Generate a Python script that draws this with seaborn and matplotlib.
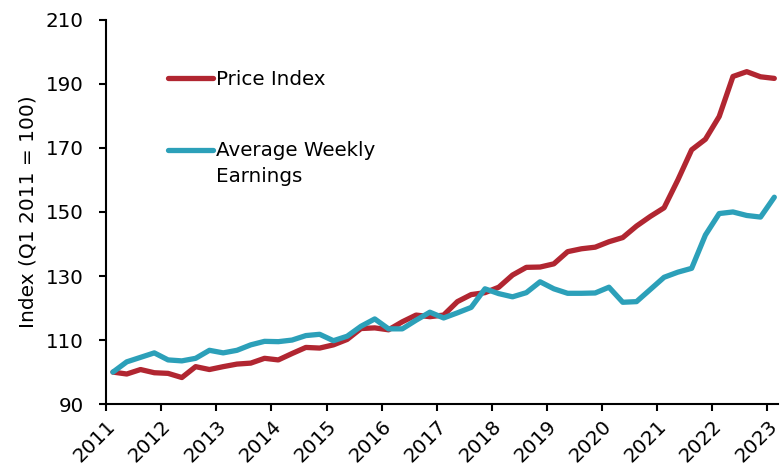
import numpy as np
import pandas as pd
import seaborn as sns
from matplotlib import pyplot as plt

# quarterly index values, Q1 2011 .. Q1 2023
price_index = [100.0, 99.4, 100.8, 99.8, 99.6, 98.3, 101.7, 100.8, 101.7, 102.5,
               102.8, 104.3, 103.8, 105.8, 107.7, 107.5, 108.5, 110.2, 113.6, 113.8,
               113.2, 115.7, 117.8, 117.3, 117.8, 122.0, 124.2, 124.8, 126.5, 130.3,
               132.7, 132.8, 133.8, 137.6, 138.5, 139.0, 140.7, 142.0, 145.6, 148.6,
               151.3, 160.0, 169.4, 172.7, 179.8, 192.3, 193.8, 192.2, 191.7]
weekly_earnings = [100.0, 103.2, 104.6, 106.0, 103.8, 103.5, 104.3, 106.8, 106.0, 106.8,
                   108.5, 109.6, 109.5, 110.0, 111.4, 111.8, 109.8, 111.2, 114.3, 116.6,
                   113.5, 113.5, 116.2, 118.7, 116.9, 118.5, 120.2, 126.0, 124.5, 123.5,
                   124.8, 128.2, 126.0, 124.6, 124.6, 124.7, 126.5, 121.8, 122.0, 125.8,
                   129.6, 131.2, 132.4, 142.8, 149.5, 150.0, 148.9, 148.4, 154.6]
series_names = ['Price Index', 'Average Weekly\nEarnings']
series_colors = ['#B12631', '#2CA0B9']
year_ticks = list(range(2011, 2024))

# mid-quarter positions in decimal years
quarters = np.arange(len(price_index))
t = 2011 + quarters * 0.25 + 0.125

df = pd.DataFrame({
    't': np.concatenate([t, t]),
    'value': price_index + weekly_earnings,
    'series': [series_names[0]] * len(t) + [series_names[1]] * len(t),
})

sns.set_style('white')
plt.rcParams['font.family'] = ['DejaVu Sans']
plt.rcParams['text.color'] = 'black'

fig = plt.figure(figsize=(7.8, 4.71), dpi=100)
ax = fig.add_axes([0.136, 0.142, 0.862, 0.816])

sns.lineplot(data=df, x='t', y='value', hue='series', palette=series_colors,
             linewidth=3.8, ax=ax, legend=True)
for line in ax.get_lines():
    line.set_solid_capstyle('round')
    line.set_solid_joinstyle('round')

ax.set_xlim(2011, 2023.2)
ax.set_ylim(90, 210)
ax.set_yticks(range(90, 211, 20))
ax.set_xticks(year_ticks)
ax.set_xticklabels([str(y) for y in year_ticks], rotation=45, ha='right',
                   rotation_mode='anchor')
ax.tick_params(axis='both', labelsize=14.3, direction='out', length=5, width=1.5,
               colors='black', left=True, bottom=True)
ax.tick_params(axis='y', pad=11)
ax.tick_params(axis='x', pad=4)
ax.set_xlabel('')
ax.set_ylabel('Index (Q1 2011 = 100)', fontsize=14.5, labelpad=6, color='black')

sns.despine(ax=ax)
for s in ['left', 'bottom']:
    ax.spines[s].set_linewidth(1.5)
    ax.spines[s].set_color('black')

handles, labels = ax.get_legend_handles_labels()
fs = 14.3
lsp = 1.45
leg = ax.legend(handles, labels, loc='upper left', bbox_to_anchor=(0.065, 0.915),
                frameon=False, fontsize=fs, handlelength=2.3, handletextpad=0.15,
                labelspacing=2.6)
for txt in leg.get_texts():
    txt.set_linespacing(lsp)
# put the second handle level with the first line of its two-line label
h2 = leg.legend_handles[1]
h2.set_ydata(np.asarray(h2.get_ydata()) + 0.5 * lsp * fs * 0.98)

plt.savefig('out.png', dpi=100)
